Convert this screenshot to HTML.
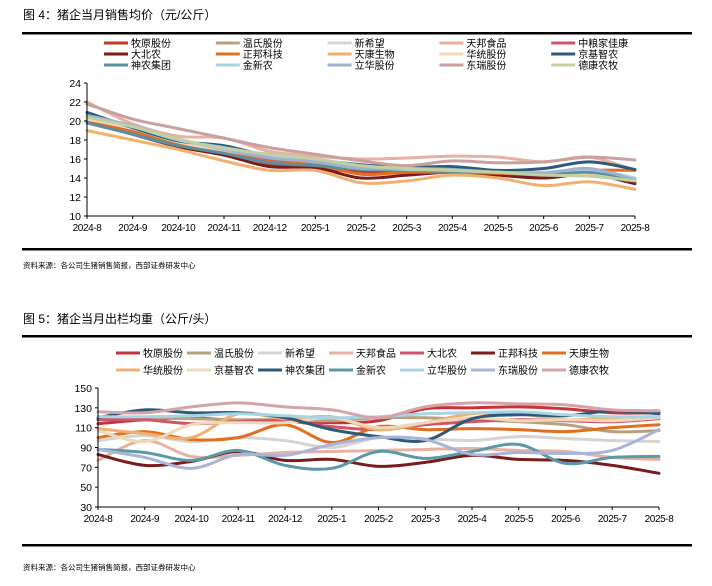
<!DOCTYPE html>
<html><head><meta charset="utf-8">
<style>
body{margin:0;background:#fff;width:712px;height:586px;overflow:hidden;font-family:"Liberation Sans","Noto Sans CJK SC",sans-serif;}
svg{position:absolute;left:0;top:0}
</style></head>
<body>
<svg id="s" width="712" height="586">
<text x="23" y="19" font-size="12" font-family="Liberation Sans,Noto Sans CJK SC,sans-serif">图 4：猪企当月销售均价（元/公斤）</text>
<rect x="22" y="32" width="670" height="2.5" fill="#000"/>
<rect x="22" y="248" width="670" height="2.5" fill="#000"/>
<text x="23" y="268" font-size="7.5">资料来源：各公司生猪销售简报，西部证券研发中心</text>
<text x="23" y="323" font-size="12">图 5：猪企当月出栏均重（公斤/头）</text>
<rect x="22" y="335" width="670" height="2.5" fill="#000"/>
<rect x="22" y="544" width="670" height="2.5" fill="#000"/>
<text x="23" y="570" font-size="7.5">资料来源：各公司生猪销售简报，西部证券研发中心</text>
<g id="c1"></g><g id="c2"></g>
</svg>
<script>
const months=["2024-8","2024-9","2024-10","2024-11","2024-12","2025-1","2025-2","2025-3","2025-4","2025-5","2025-6","2025-7","2025-8"];
const names1=["牧原股份","温氏股份","新希望","天邦食品","中粮家佳康","大北农","正邦科技","天康生物","华统股份","京基智农","神农集团","金新农","立华股份","东瑞股份","德康农牧"];
const colors1=["#c0392b","#b8a07e","#d4d4d4","#e8b0a0","#d0546a","#7b1c1c","#e07020","#f0b070","#efd8b8","#2e5a7a","#5a8ea0","#a8d0e0","#a0b0d0","#c8a0a0","#c0d0a0"];
const s1_0=[20.1,19,17.8,16.8,15.5,15.0,14.7,14.6,14.7,14.5,14.2,14.4,13.8];
const s1_1=[20.3,19,17.8,17,16,15.6,15,14.8,14.6,14.6,14.4,14.5,13.8];
const s1_2=[20,19,17.7,16.8,15.9,15.5,15.0,14.9,14.7,14.6,14.3,14.3,13.7];
const s1_3=[22,19.7,18.4,18.2,16.8,16.3,16.0,16.1,16.3,16.2,15.7,16.2,14.8];
const s1_4=[20,18.9,17.8,16.9,16.0,15.4,15.0,14.8,14.7,14.5,14.3,14.5,13.6];
const s1_5=[20,18.6,17.3,16.4,15.2,15.1,14.0,14.3,14.6,14.3,14.0,14.4,13.4];
const s1_6=[20,18.8,17.6,16.7,15.7,15.4,14.4,14.6,14.6,14.5,14.4,14.8,14.8];
const s1_7=[19,18.0,17,15.8,14.8,14.8,13.5,13.7,14.3,14.0,13.2,13.6,12.8];
const s1_8=[20.2,19.2,17.8,16.9,16.2,15.7,15.2,14.9,14.8,14.6,14.4,14.5,13.9];
const s1_9=[20.9,19.3,17.9,17.4,16.3,15.9,15.4,15.1,15.2,14.8,15.0,15.7,14.9];
const s1_10=[19.8,18.6,17.4,16.6,15.6,15.3,14.9,14.8,14.7,14.6,14.4,14.6,13.9];
const s1_11=[20.5,19.4,18,17.2,16.4,15.7,15.1,14.9,14.8,14.6,14.6,14.9,14.0];
const s1_12=[20.6,19.5,18.1,17.0,16.1,15.7,15.0,15.0,14.9,14.6,14.5,15.0,13.8];
const s1_13=[21.8,20.2,19.2,18.2,17.2,16.5,15.8,15.3,15.8,15.6,15.7,16.2,15.9];
const s1_14=[20.4,19.4,18.1,17.1,16.5,16.0,15.3,15.0,14.8,14.6,14.3,14.2,13.7];
const ticks1=[10,12,14,16,18,20,22,24];
const names2=["牧原股份","温氏股份","新希望","天邦食品","大北农","正邦科技","天康生物","华统股份","京基智农","神农集团","金新农","立华股份","东瑞股份","德康农牧"];
const colors2=["#c8323a","#b8a07e","#d4d4d4","#e8b0a0","#d0546a","#7b1c1c","#e07020","#f0b070","#efd8b8","#2e5a7a","#5a9aa8","#a8d4e4","#a8b4d8","#d4a4a8"];
const s2_0=[114,118,120,117,117,115,117,129,130,131,129,125,125];
const s2_1=[120,120,119,118,118,117,120,120,118,116,113,106,107];
const s2_2=[97,102,96,100,97,90,100,99,97,101,99,97,96];
const s2_3=[77,97,81,82,85,86,87,88,89,87,86,80,78];
const s2_4=[118,118,114,116,117,111,108,113,116,118,117,116,119];
const s2_5=[83,72,76,86,77,78,71,75,82,78,77,72,64];
const s2_6=[100,106,98,100,113,95,111,108,109,108,106,110,113];
const s2_7=[109,104,100,124,119,121,108,115,124,124,118,120,121];
const s2_8=[107,96,113,115,115,120,110,115,120,117,118,117,120];
const s2_9=[120,128,125,125,120,108,101,97,119,123,122,127,124];
const s2_10=[88,85,77,87,72,69,86,79,86,93,74,80,81];
const s2_11=[121,121,122,124,122,120,121,124,125,126,123,121,121];
const s2_12=[88,80,69,83,82,93,100,98,83,85,84,87,108];
const s2_13=[126,125,131,135,131,128,120,131,135,134,133,128,127];
const ticks2=[30,50,70,90,110,130,150];
const series1=[s1_0,s1_1,s1_2,s1_3,s1_4,s1_5,s1_6,s1_7,s1_8,s1_9,s1_10,s1_11,s1_12,s1_13,s1_14];
const series2=[s2_0,s2_1,s2_2,s2_3,s2_4,s2_5,s2_6,s2_7,s2_8,s2_9,s2_10,s2_11,s2_12,s2_13];
const NS="http://www.w3.org/2000/svg";
function mk(t,a,p){const e=document.createElementNS(NS,t);for(const k in a)e.setAttribute(k,a[k]);p.appendChild(e);return e;}
function smooth(pts){let d="M"+pts[0][0]+","+pts[0][1];for(let i=0;i<pts.length-1;i++){const p0=pts[i-1]||pts[i],p1=pts[i],p2=pts[i+1],p3=pts[i+2]||p2;const c1x=p1[0]+(p2[0]-p0[0])/6,c1y=p1[1]+(p2[1]-p0[1])/6,c2x=p2[0]-(p3[0]-p1[0])/6,c2y=p2[1]-(p3[1]-p1[1])/6;d+=" C"+c1x+","+c1y+" "+c2x+","+c2y+" "+p2[0]+","+p2[1];}return d;}
function chart(g,cfg){
 const {x0,x1,y0,y1,lo,hi,ticks,series,colors,names,legend,pre}=cfg;
 const X=i=>x0+(x1-x0)*i/(months.length-1);
 const Y=v=>y0-(y0-y1)*(v-lo)/(hi-lo);
 series.forEach((s,k)=>{const p=mk("path",{d:smooth(s.map((v,i)=>[X(i),Y(v)])),fill:"none",stroke:colors[k],"stroke-width":3,"stroke-linecap":"round"},g);
  
  });
 const ax=mk("path",{d:`M${x0},${Y(hi)} V${y0} H${x1}`,stroke:"#000","stroke-width":1,fill:"none"},g);
 
 
 ticks.forEach(t=>{mk("line",{x1:x0-3,x2:x0,y1:Y(t),y2:Y(t),stroke:"#000"},g);const tx=mk("text",{x:x0-6,y:Y(t)+4,"font-size":10.5,"text-anchor":"end"},g);tx.textContent=t;
  
  });
 months.forEach((m,i)=>{mk("line",{x1:X(i),x2:X(i),y1:y0,y2:y0+3,stroke:"#000"},g);const tx=mk("text",{x:X(i),y:y0+15,"font-size":10,"text-anchor":"middle","letter-spacing":"-0.4"},g);tx.textContent=m;
  
  });
 names.forEach((n,k)=>{const [lx,ly]=legend(k);const l=mk("line",{x1:lx,x2:lx+24,y1:ly,y2:ly,stroke:colors[k],"stroke-width":3},g);
  
  
  const t=mk("text",{x:lx+27,y:ly+4,"font-size":10},g);t.textContent=n;
  
  });
}
chart(document.getElementById("c1"),{x0:87,x1:635,y0:216,y1:83,lo:10,hi:24,ticks:ticks1,series:series1,colors:colors1,names:names1,pre:"chart1",
 legend:k=>[104+(k%5)*111.8,43+Math.floor(k/5)*11]});
chart(document.getElementById("c2"),{x0:98,x1:659,y0:507,y1:388,lo:30,hi:150,ticks:ticks2,series:series2,colors:colors2,names:names2,pre:"chart2",
 legend:k=>[116+(k%7)*71,353+Math.floor(k/7)*17]});
</script>
</body></html>
